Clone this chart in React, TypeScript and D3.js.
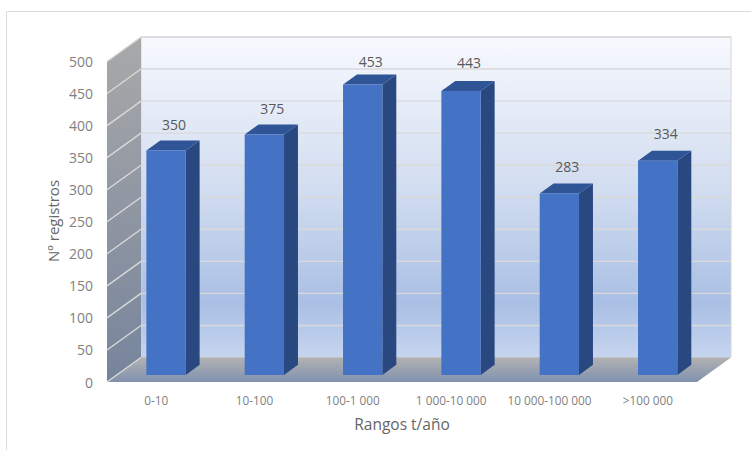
import React from "react";
import * as d3 from "d3";

const categories = ["0-10", "10-100", "100-1 000", "1 000-10 000", "10 000-100 000", ">100 000"];
const registros = [350, 375, 453, 443, 283, 334];
const yTicks = [0, 50, 100, 150, 200, 250, 300, 350, 400, 450, 500];
const yAxisTitle = "Nº registros";
const xAxisTitle = "Rangos t/año";

const WIDTH = 751;
const HEIGHT = 450;
const FONT = "'Open Sans', sans-serif";

// Front plane of the oblique box and the shift towards its back plane.
const x = d3.scaleBand<string>().domain(categories).range([107, 697]);
const y = d3.scaleLinear().domain([0, 500]).range([382, 61.5]);
const depthX = d3.scaleLinear().domain([0, 1]).range([0, 34]);
const depthY = d3.scaleLinear().domain([0, 1]).range([0, -24.5]);

// Projects a point given in the front plane back to a depth between 0 and 1.
const project = (px: number, value: number, depth: number): [number, number] => [
  px + depthX(depth),
  y(value) + depthY(depth),
];

const line = d3.line();
const poly = (pts: [number, number][]) => line(pts) + "Z";

const BAR_WIDTH = 0.4;
const BAR_NEAR = 0.29;
const BAR_FAR = 0.7;

// Hand-placed vertical gap between each value label and its bar.
const labelLift = [16, 16, 13, 18, 17, 17];

export default function App() {
  const x0 = x.range()[0];
  const x1 = x.range()[1];
  const band = x.bandwidth();
  const barW = band * BAR_WIDTH;

  return (
    <svg
      width={WIDTH}
      height={HEIGHT}
      style={{ position: "absolute", left: 0, top: 0, background: "#fff" }}
      fontFamily={FONT}
    >
      <defs>
        <linearGradient id="backWall" x1="0" y1="0" x2="0" y2="1">
          <stop offset="0" stopColor="#f7f9fe" />
          <stop offset="0.5" stopColor="#cfdbef" />
          <stop offset="0.83" stopColor="#a9bfe4" />
          <stop offset="1" stopColor="#c6d5ef" />
        </linearGradient>
        <linearGradient id="sideWall" x1="0" y1="0" x2="0" y2="1">
          <stop offset="0" stopColor="#a9a9a9" />
          <stop offset="1" stopColor="#76849c" />
        </linearGradient>
        <linearGradient id="floor" x1="0" y1="0" x2="0" y2="1">
          <stop offset="0" stopColor="#b2b2b2" />
          <stop offset="1" stopColor="#8091ae" />
        </linearGradient>
      </defs>

      {/* Chart frame: only the top and left edges fall inside the canvas */}
      <path d={`M6.5,${HEIGHT}V11.5H${WIDTH}`} fill="none" stroke="#dcdcdc" strokeWidth={1} />

      {/* Walls and floor of the box */}
      <path
        d={poly([project(x0, 0, 1), project(x0, 500, 1), project(x1, 500, 1), project(x1, 0, 1)])}
        fill="url(#backWall)"
        stroke="#d4d4d4"
      />
      <path
        d={poly([project(x0, 0, 0), project(x0, 500, 0), project(x0, 500, 1), project(x0, 0, 1)])}
        fill="url(#sideWall)"
      />
      <path
        d={poly([project(x0, 0, 0), project(x0, 0, 1), project(x1, 0, 1), project(x1, 0, 0)])}
        fill="url(#floor)"
      />

      {/* Gridlines run across the back wall and down the side wall */}
      {yTicks.map((t) => (
        <path
          key={t}
          d={
            line([project(x0, t, 0), project(x0, t, 1)])! +
            (t > 0 ? line([project(x0, t, 1), project(x1, t, 1)])! : "")
          }
          fill="none"
          stroke="#d9d9d9"
          strokeWidth={1.4}
        />
      ))}

      {/* Bars: side, top and front faces */}
      {categories.map((c, i) => {
        const left = x(c)! + (band - barW) / 2;
        const right = left + barW;
        const v = registros[i];
        return (
          <g key={c}>
            <path
              d={poly([project(right, 0, BAR_NEAR), project(right, v, BAR_NEAR), project(right, v, BAR_FAR), project(right, 0, BAR_FAR)])}
              fill="#2a4880"
            />
            <path
              d={poly([project(left, v, BAR_NEAR), project(left, v, BAR_FAR), project(right, v, BAR_FAR), project(right, v, BAR_NEAR)])}
              fill="#2f5597"
            />
            <path
              d={poly([project(left, 0, BAR_NEAR), project(left, v, BAR_NEAR), project(right, v, BAR_NEAR), project(right, 0, BAR_NEAR)])}
              fill="#4472c4"
            />
          </g>
        );
      })}

      {/* Value labels above each bar */}
      {categories.map((c, i) => {
        const [px, py] = project(x(c)! + band / 2, registros[i], BAR_FAR);
        return (
          <text key={c} x={px - 6} y={py - labelLift[i]} textAnchor="middle" dominantBaseline="central" fontSize={14} fill="#595959">
            {registros[i]}
          </text>
        );
      })}

      {/* Value axis */}
      {yTicks.map((t) => (
        <text key={t} x={93} y={y(t)} textAnchor="end" dominantBaseline="central" fontSize={14} fill="#7f7f7f">
          {t}
        </text>
      ))}

      {/* Category axis */}
      {categories.map((c) => (
        <text key={c} x={x(c)! + band / 2} y={400} textAnchor="middle" dominantBaseline="central" fontSize={11.8} fill="#7f7f7f">
          {c}
        </text>
      ))}

      <text
        transform="translate(53,221) rotate(-90)"
        textAnchor="middle"
        dominantBaseline="central"
        fontSize={15}
        fill="#666"
      >
        {yAxisTitle}
      </text>
      <text x={402} y={424} textAnchor="middle" dominantBaseline="central" fontSize={15.5} fill="#666">
        {xAxisTitle}
      </text>
    </svg>
  );
}
